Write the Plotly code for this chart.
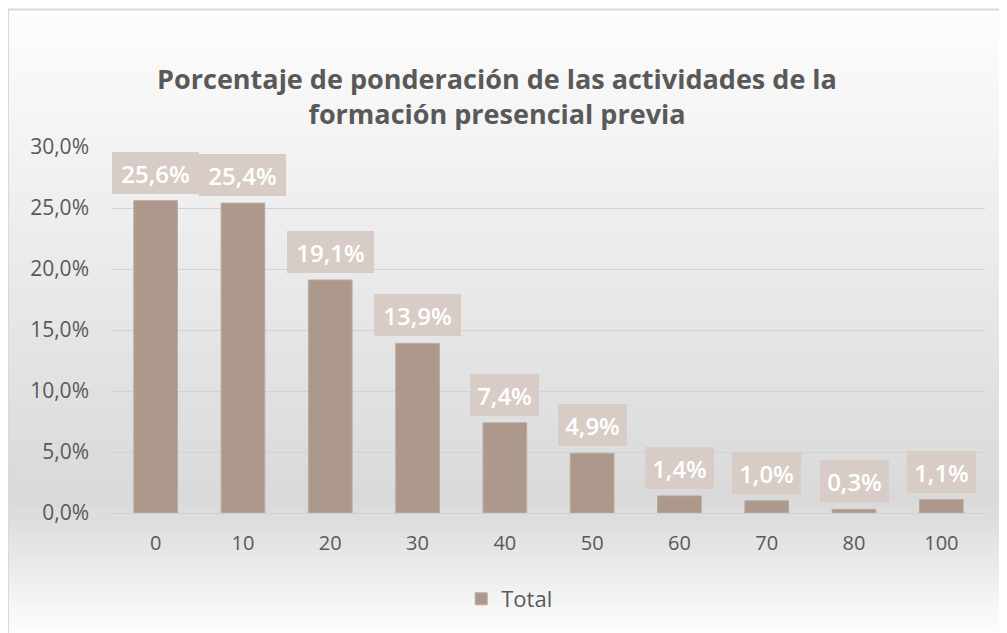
import plotly.graph_objects as go

categories = ["0", "10", "20", "30", "40", "50", "60", "70", "80", "100"]
values = [25.6, 25.4, 19.1, 13.9, 7.4, 4.9, 1.4, 1.0, 0.3, 1.1]
labels = ["25,6%", "25,4%", "19,1%", "13,9%", "7,4%", "4,9%", "1,4%", "1,0%", "0,3%", "1,1%"]
y_ticks = [0, 5, 10, 15, 20, 25, 30]
y_tick_text = ["0,0%", "5,0%", "10,0%", "15,0%", "20,0%", "25,0%", "30,0%"]
series_name = "Total"

# page body has an 8px margin; size the figure so it fills the window
OFF = 8
W, H = 1007 - OFF, 633 - OFF
L, R, T, B = 112 - OFF, 22, 147 - OFF, 120
pw, ph = W - L - R, H - T - B

def px_to_paper_x(p):  # p in screen px
    return (p - OFF - L) / pw

def px_to_paper_y(p):
    return (H - B - (p - OFF)) / ph

def lerp(c1, c2, t):
    return tuple(round(a + (b - a) * t) for a, b in zip(c1, c2))

shapes = []
# background gradient (decorative), built as bands
stops = [(9, (253, 253, 253)), (500, (217, 217, 217)), (520, (222, 222, 222)), (640, (255, 255, 255))]
for (y0, c0), (y1, c1) in zip(stops[:-1], stops[1:]):
    n = max(2, int((y1 - y0) / 6))
    for i in range(n):
        ya = y0 + (y1 - y0) * i / n
        yb = y0 + (y1 - y0) * (i + 1) / n
        c = lerp(c0, c1, (i + 0.5) / n)
        shapes.append(dict(type="rect", xref="paper", yref="paper", layer="below",
                           x0=px_to_paper_x(9), x1=px_to_paper_x(1020),
                           y0=px_to_paper_y(yb + 0.5), y1=px_to_paper_y(ya),
                           line=dict(width=0), fillcolor="rgb(%d,%d,%d)" % c))
# frame border
shapes.append(dict(type="rect", xref="paper", yref="paper", layer="above",
                   x0=px_to_paper_x(8), x1=px_to_paper_x(1030),
                   y0=px_to_paper_y(660), y1=px_to_paper_y(9.5),
                   line=dict(width=2, color="#d9d9d9"), fillcolor="rgba(0,0,0,0)"))

fig = go.Figure()
fig.add_trace(go.Bar(
    x=categories, y=values, name=series_name,
    marker=dict(color="#ad998b", line=dict(width=1, color="#b9aaa0")),
    width=0.5, hoverinfo="x+y",
))

annotations = []
for i, (v, t) in enumerate(zip(values, labels)):
    annotations.append(dict(
        x=i, y=v, xref="x", yref="y", text=t, showarrow=False,
        yanchor="bottom", yshift=7, bgcolor="#d8cdc6", borderpad=0, borderwidth=0,
        width=18 * len(t) - 3, height=42,
        font=dict(family="Open Sans", size=24, color="white", weight=600),
    ))

fig.update_layout(
    width=W, height=H,
    margin=dict(l=L, r=R, t=T, b=B, autoexpand=False),
    paper_bgcolor="white", plot_bgcolor="rgba(0,0,0,0)",
    separators=",.",
    title=dict(text="Porcentaje de ponderación de las actividades de la<br>formación presencial previa",
               x=(497 - OFF) / W, xref="container", xanchor="center",
               y=1 - (97 - OFF - 8) / H, yref="container", yanchor="middle",
               font=dict(family="Open Sans", size=27, color="#595959", weight="bold")),
    xaxis=dict(type="category", range=[-0.5, len(categories) - 0.5], showgrid=False,
               showline=True, linecolor="#d0d0d0", linewidth=1,
               ticks="", tickangle=0, tickfont=dict(family="Open Sans", size=20, color="#595959"),
               ticklabelstandoff=12, fixedrange=True, automargin=False),
    yaxis=dict(range=[0, 30], tickvals=y_ticks, ticktext=y_tick_text,
               showgrid=True, gridcolor="#d2d2d2", gridwidth=1, zeroline=False,
               tickfont=dict(family="Open Sans", size=21, color="#595959"),
               ticklabelstandoff=22, fixedrange=True, automargin=False),
    showlegend=True,
    legend=dict(orientation="h", x=0.455, xanchor="center", y=px_to_paper_y(599), yanchor="middle",
                font=dict(family="Open Sans", size=22, color="#595959"),
                bgcolor="rgba(0,0,0,0)", itemwidth=30),
    bargap=0.5,
    shapes=shapes,
    annotations=annotations,
)

fig.write_html("out.html")
